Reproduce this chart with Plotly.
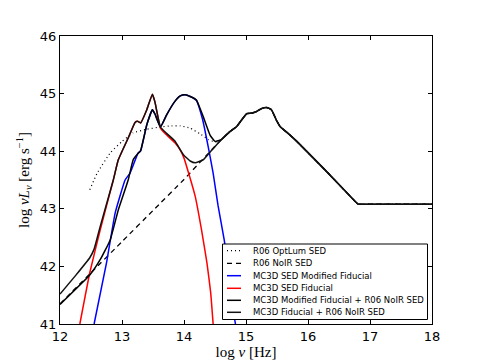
import plotly.graph_objects as go

# ---------------- data ----------------
# shared optical/UV part of the R06 templates
UV_X = [14.6, 14.74, 14.85, 15.01, 15.09, 15.17, 15.25, 15.33, 15.41, 15.49, 15.55, 15.71, 15.82, 16.27, 16.75, 16.81, 17.0, 18.0]
UV_Y = [44.2, 44.34, 44.43, 44.65, 44.66, 44.69, 44.74, 44.76, 44.72, 44.54, 44.43, 44.28, 44.17, 43.68, 43.14, 43.08, 43.08, 43.08]

OPT_X = [12.48, 12.6, 12.81, 13.0, 13.18, 13.4, 13.61, 13.8, 13.94, 14.1, 14.26, 14.4, 14.5]
OPT_Y = [43.33, 43.62, 43.97, 44.17, 44.32, 44.38, 44.42, 44.44, 44.44, 44.40, 44.30, 44.2, 44.16]

NOIR_X = [12.0, 12.5, 13.0, 13.5, 14.0]
NOIR_Y = [41.35, 41.89, 42.43, 42.97, 43.51]

BLUE_X = [12.55, 12.75, 12.89, 13.05, 13.13, 13.26, 13.30, 13.40, 13.49, 13.53, 13.62, 13.72, 13.85, 13.94, 14.02,
          14.1, 14.2, 14.3, 14.39, 14.47, 14.55, 14.65, 14.74, 14.8, 14.83]
BLUE_Y = [41.0, 42.06, 42.93, 43.5, 43.62, 43.97, 44.0, 44.46, 44.72, 44.65, 44.42, 44.63, 44.86, 44.96, 44.98,
          44.95, 44.88, 44.55, 44.08, 43.62, 43.05, 42.45, 41.77, 41.2, 41.0]

RED_X = [12.32, 12.48, 12.65, 12.86, 12.94, 13.1, 13.21, 13.25, 13.30, 13.40, 13.49, 13.53, 13.62, 13.72, 13.85,
         13.94, 14.0, 14.08, 14.18, 14.28, 14.37, 14.43, 14.47]
RED_Y = [41.0, 41.89, 42.64, 43.5, 43.85, 44.23, 44.50, 44.52, 44.49, 44.72, 44.99, 44.86, 44.40, 44.28, 44.15,
         44.02, 43.88, 43.6, 43.22, 42.65, 42.06, 41.55, 41.0]

MOD_SUM_X = [12.0, 12.48, 12.65, 12.81, 12.94, 13.10, 13.18, 13.25, 13.30, 13.40, 13.49, 13.53, 13.62, 13.72, 13.85,
             13.94, 14.02, 14.1, 14.2, 14.31, 14.42, 14.5]
MOD_SUM_Y = [41.34, 41.85, 42.12, 42.46, 42.98, 43.5, 43.85, 43.95, 44.01, 44.46, 44.72, 44.65, 44.42, 44.63, 44.86,
             44.96, 44.98, 44.95, 44.89, 44.6, 44.28, 44.17]

FID_SUM_X = [12.0, 12.25, 12.48, 12.55, 12.65, 12.86, 12.94, 13.1, 13.21, 13.25, 13.30, 13.40, 13.49, 13.53, 13.62,
             13.72, 13.85, 13.99, 14.1, 14.18, 14.31, 14.45]
FID_SUM_Y = [41.52, 41.84, 42.15, 42.3, 42.70, 43.5, 43.85, 44.23, 44.50, 44.52, 44.49, 44.72, 44.99, 44.86, 44.42,
             44.31, 44.18, 43.94, 43.83, 43.8, 43.85, 44.02]

LEGEND_NAMES = ["R06 OptLum SED", "R06 NoIR SED", "MC3D SED Modified Fiducial", "MC3D SED Fiducial",
                "MC3D Modified Fiducial + R06 NoIR SED", "MC3D Fiducial + R06 NoIR SED"]
X_TICKS = [12, 13, 14, 15, 16, 17, 18]
Y_TICKS = [41, 42, 43, 44, 45, 46]

# ---------------- figure ----------------
series = [
    (OPT_X + UV_X, OPT_Y + UV_Y, "black", "1px,3px", 1.2),
    (NOIR_X + UV_X, NOIR_Y + UV_Y, "black", "5px,4px", 1.3),
    (BLUE_X, BLUE_Y, "blue", "solid", 1.5),
    (RED_X, RED_Y, "red", "solid", 1.5),
    (MOD_SUM_X + UV_X, MOD_SUM_Y + UV_Y, "black", "solid", 1.5),
    (FID_SUM_X + UV_X, FID_SUM_Y + UV_Y, "#111111", "solid", 1.5),
]

fig = go.Figure()
for (xs, ys, col, dash, w), name in zip(series, LEGEND_NAMES):
    fig.add_trace(go.Scatter(x=xs, y=ys, mode="lines", name=name, showlegend=False, hoverinfo="skip",
                             line=dict(color=col, width=w, dash=dash, shape="spline", smoothing=0.35)))

L, R, T, B = 60, 432, 36, 324
def px(xp):
    return (xp - L) / (R - L)
def py(yp):
    return (B - yp) / (B - T)

# hand-made legend (plotly's legend rows are too tall for this size)
shapes = [dict(type="rect", xref="paper", yref="paper", x0=px(222.5), x1=px(427.5), y0=py(319.5), y1=py(244),
               line=dict(color="black", width=1), fillcolor="white", layer="above")]
annotations = []
rows = [250.7, 263.3, 275.7, 288.3, 300.3, 312.3]
for (xs, ys, col, dash, w), name, yr in zip(series, LEGEND_NAMES, rows):
    shapes.append(dict(type="line", xref="paper", yref="paper", x0=px(227), x1=px(241), y0=py(yr), y1=py(yr),
                       line=dict(color=col, width=w, dash=dash), layer="above"))
    annotations.append(dict(xref="paper", yref="paper", x=px(251), y=py(yr), text=name, showarrow=False,
                            xanchor="left", yanchor="middle",
                            font=dict(family="DejaVu Sans", size=8.5, color="black")))

fig.update_layout(
    width=480, height=360,
    margin=dict(l=L, r=480 - R, t=T, b=360 - B, autoexpand=False),
    paper_bgcolor="white", plot_bgcolor="white",
    shapes=shapes, annotations=annotations,
    font=dict(family="DejaVu Sans", size=13, color="black"),
)
fig.update_xaxes(range=[12, 18], tickvals=X_TICKS, ticktext=[str(v) for v in X_TICKS], automargin=False,
                 ticks="inside", ticklen=4, tickcolor="black", showline=True, linecolor="black", linewidth=1,
                 mirror="ticks", showgrid=False, zeroline=False,
                 title=dict(text="log <i>ν</i> [Hz]", font=dict(family="Liberation Serif", size=15), standoff=3))
fig.update_yaxes(range=[41, 46], tickvals=Y_TICKS, ticktext=[str(v) for v in Y_TICKS], automargin=False,
                 ticks="inside", ticklen=4, tickcolor="black", showline=True, linecolor="black", linewidth=1,
                 mirror="ticks", showgrid=False, zeroline=False,
                 title=dict(text="log <i>νL</i><sub><i>ν</i></sub> [erg s<sup>−1</sup>]",
                            font=dict(family="Liberation Serif", size=15), standoff=6))

fig.write_html("out.html", config={"displayModeBar": False},
               post_script="document.body.style.margin='0';document.body.style.overflow='hidden';")
